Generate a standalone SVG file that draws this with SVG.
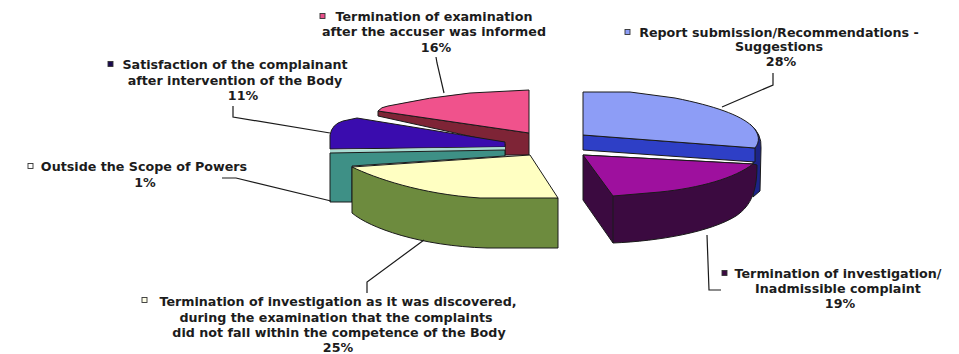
<svg xmlns="http://www.w3.org/2000/svg" width="959" height="354" viewBox="0 0 959 354">
<style>
.t{font-family:"DejaVu Sans","Liberation Sans",sans-serif;font-weight:bold;font-size:12.7px;fill:#1c1c1c;text-anchor:middle}
.f{stroke:#1a1a1a;stroke-width:1;stroke-linejoin:round}
.b{stroke:#333;stroke-width:0.9}
.ld{fill:none;stroke:#1a1a1a;stroke-width:1.2}
</style>
<rect width="959" height="354" fill="#ffffff"/>
<g id="slice-termination-examination">
<path class="f" d="M378,111 L378,116 L505,144 L505,155 L529,155 L529,133 Z" fill="#7e2436"/>
<path class="f" d="M378,111 Q381,107 388,106 Q430,97 470,93 L529,90 L529,133 Z" fill="#f0528c"/>
</g>
<g id="slice-satisfaction">
<path class="f" d="M330,149 L330,135 Q332,124 343,121 L357,118 L505,142 L505,147 Z" fill="#3a0cae"/>
</g>
<g id="slice-outside-scope">
<path d="M330,150 L505,147 L505,150 L330,153 Z" fill="#a9dcd2"/>
<path class="f" d="M330,153 L505,150 L505,156 L352,166 L352,202 L330,202 Z" fill="#3e9086"/>
</g>
<g id="slice-termination-competence">
<path class="f" d="M352,167 L352,213 C370,228 420,246 487,248 L558,248 L558,198 Z" fill="#6d8b3e"/>
<path class="f" d="M352,167 L530,155 L558,198 L480,198 C420,194 375,178 352,167 Z" fill="#ffffc2"/>
</g>
<g id="slice-report-submission">
<path class="f" d="M750,124 Q762,134 761,148 L760,191 L753,197 L753,148 Z" fill="#1c2488"/>
<path class="f" d="M583,135 L755,148 L755,162 L583,150 Z" fill="#2e3fc6"/>
<path class="f" d="M583,92 L630,92 L675,98 C715,106 740,115 752,126 C760,134 760,142 755,148 L583,135 Z" fill="#8d9df6"/>
</g>
<g id="slice-inadmissible">
<path class="f" d="M583,155 L583,200 L613,243 C660,241 710,232 736,216 C752,205 757,190 757,165 L753,164 Z" fill="#3b0a40"/>
<path class="f" d="M583,155 L753,164 C735,178 700,188 660,192 L613,196 Z" fill="#9e109e"/>
<path class="f" d="M613,196 L613,243" fill="none"/>
</g>
<g id="connectors">
<path class="ld" d="M436,57 L437,63 L444,93"/>
<path class="ld" d="M233,106 L233,117 L330,133"/>
<path class="ld" d="M222,178 L236,178 L331,201"/>
<path class="ld" d="M773,73 L773,85 L722,107"/>
<path class="ld" d="M707,235 L709,290 L721,290"/>
<path class="ld" d="M424,240 L367,282 L367,293"/>
</g>
<g id="label-termination-examination">
<rect class="b" x="320" y="13.5" width="5" height="5" fill="#e8508a"/>
<text class="t" x="434" y="20.5">Termination of examination</text>
<text class="t" x="434" y="36">after the accuser was informed</text>
<text class="t" x="436" y="51.5">16%</text>
</g>
<g id="label-report-submission">
<rect class="b" x="625" y="29.5" width="5" height="5" fill="#8d9df6"/>
<text class="t" x="779" y="36.5">Report submission/Recommendations -</text>
<text class="t" x="779" y="51">Suggestions</text>
<text class="t" x="781" y="65.5">28%</text>
</g>
<g id="label-satisfaction">
<rect class="b" x="108" y="61.5" width="5" height="5" fill="#1a0a50"/>
<text class="t" x="235" y="69">Satisfaction of the complainant</text>
<text class="t" x="235" y="84.5">after intervention of the Body</text>
<text class="t" x="243" y="100">11%</text>
</g>
<g id="label-outside-scope">
<rect class="b" x="28" y="163.5" width="5" height="5" fill="#ffffff"/>
<text class="t" x="144" y="171">Outside the Scope of Powers</text>
<text class="t" x="145" y="186.5">1%</text>
</g>
<g id="label-termination-competence">
<rect class="b" x="142" y="297.5" width="5" height="5" fill="#ffffe8"/>
<text class="t" x="338" y="306">Termination of investigation as it was discovered,</text>
<text class="t" x="336" y="321.5">during the examination that the complaints</text>
<text class="t" x="339" y="337">did not fall within the competence of the Body</text>
<text class="t" x="338" y="352">25%</text>
</g>
<g id="label-inadmissible">
<rect class="b" x="722" y="270.5" width="5" height="5" fill="#3b0a40"/>
<text class="t" x="838" y="278">Termination of investigation/</text>
<text class="t" x="838" y="293">Inadmissible complaint</text>
<text class="t" x="840" y="308">19%</text>
</g>
</svg>
